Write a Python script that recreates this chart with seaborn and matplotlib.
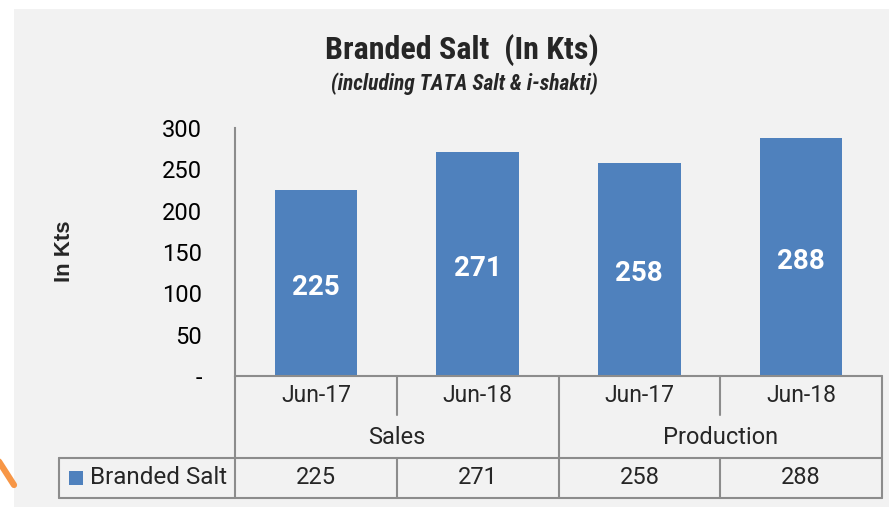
import matplotlib
matplotlib.use("Agg")
import matplotlib.pyplot as plt
import seaborn as sns
import pandas as pd
from matplotlib.lines import Line2D
from matplotlib.patches import Rectangle

# chart data
periods = ['Jun-17', 'Jun-18', 'Jun-17', 'Jun-18']
groups = ['Sales', 'Production']
values = [225, 271, 258, 288]
series_name = 'Branded Salt'
y_ticks = [0, 50, 100, 150, 200, 250, 300]
y_tick_labels = ['-', '50', '100', '150', '200', '250', '300']

BAR = '#4f81bd'
GRID = '#8c8c8c'
BG = '#f2f2f2'

sns.set_theme(style='white')
plt.rcParams['font.family'] = ['Roboto', 'DejaVu Sans']
narrow = ['Liberation Sans Narrow', 'Roboto Condensed', 'DejaVu Sans']

W, H = 889, 507
fig = plt.figure(figsize=(W / 100, H / 100), dpi=100, facecolor='white')

# grey chart area (white margin top/left)
fig.add_artist(Rectangle((14 / W, 0), 1 - 14 / W, 1 - 9 / H, transform=fig.transFigure,
                         facecolor=BG, edgecolor='none', zorder=-10))
# stray orange stroke at lower left
fig.add_artist(Line2D([-2 / W, 14 / W], [1 - 460 / H, 1 - 485 / H], transform=fig.transFigure,
                      color='#f79646', linewidth=4.5, zorder=-5))

ax_left, ax_right, ax_top, ax_bot = 235, 882, 128, 376
ax = fig.add_axes([ax_left / W, 1 - ax_bot / H, (ax_right - ax_left) / W, (ax_bot - ax_top) / H])
ax.set_facecolor('none')

df = pd.DataFrame({'slot': range(len(values)), 'value': values})
sns.barplot(data=df, x='slot', y='value', color=BAR, saturation=1, width=0.51, ax=ax,
            edgecolor='none')
ax.bar_label(ax.containers[0], label_type='center', color='white', fontsize=20,
             fontweight='bold', padding=-3)

ax.set_xlim(-0.5, len(values) - 0.5)
ax.set_ylim(0, 300)
ax.set_yticks(y_ticks)
ax.set_yticklabels(y_tick_labels, fontsize=17, color='black')
ax.tick_params(axis='y', length=0, pad=24)
ax.set_xticks([])
ax.set_xlabel('')
ax.set_ylabel('')
for s in ['top', 'right', 'bottom']:
    ax.spines[s].set_visible(False)
ax.spines['left'].set_color(GRID)
ax.spines['left'].set_linewidth(1.5)

# table under the axis, in data-x / axes-y coords
px = ax_bot - ax_top
def yf(p):
    return (ax_bot - p) / px

trans = ax.get_xaxis_transform()
lk = dict(color=GRID, linewidth=1.5, transform=trans, clip_on=False)
r1, r2, r3 = yf(415), yf(458), yf(498)
leg_x = (59 - ax_left) / ((ax_right - ax_left) / len(values)) - 0.5
n = len(values)

ax.plot([-0.5, n - 0.5], [0, 0], **lk)
ax.plot([leg_x, n - 0.5], [r2, r2], **lk)
ax.plot([leg_x, n - 0.5], [r3, r3], **lk)
ax.plot([-0.5, -0.5], [0, r3], **lk)
ax.plot([leg_x, leg_x], [r2, r3], **lk)
for b in range(1, n + 1):
    xb = b - 0.5
    if b % 2 == 0:
        ax.plot([xb, xb], [0, r3], **lk)
    else:
        ax.plot([xb, xb], [0, r1], **lk)
        ax.plot([xb, xb], [r2, r3], **lk)

for i, (p, v) in enumerate(zip(periods, values)):
    ax.text(i, yf(396), p, transform=trans, ha='center', va='center', fontsize=16.5)
    ax.text(i, yf(478), str(v), transform=trans, ha='center', va='center', fontsize=17)
for g, name in enumerate(groups):
    ax.text(2 * g + 0.5, yf(437), name, transform=trans, ha='center', va='center', fontsize=17)

# legend key inside the table
fig.add_artist(Rectangle((69 / W, 1 - 485 / H), 14 / W, 14 / H, transform=fig.transFigure,
                         facecolor=BAR, edgecolor='none'))
fig.text(90 / W, 1 - 477 / H, series_name, ha='left', va='center', fontsize=17.5)

# titles
fig.text(462 / W, 1 - 50 / H, 'Branded Salt  (In Kts)', ha='center', va='center',
         fontsize=23, fontweight='bold', family=narrow)
fig.text(464 / W, 1 - 84 / H, '(including TATA Salt & i-shakti)', ha='center', va='center',
         fontsize=15.5, fontweight='bold', fontstyle='italic', family=narrow)
fig.text(64 / W, 1 - 251 / H, 'In Kts', ha='center', va='center', rotation=90,
         fontsize=16, fontweight='bold', family=['Liberation Sans', 'DejaVu Sans'])

fig.savefig('out.png', dpi=100, facecolor=fig.get_facecolor())
